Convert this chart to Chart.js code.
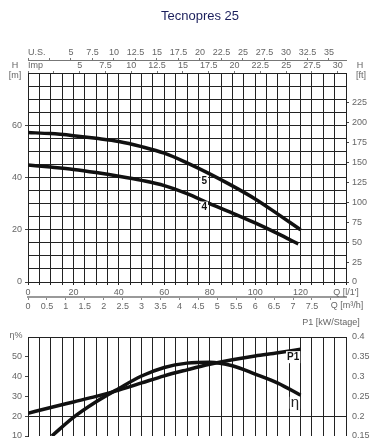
<!DOCTYPE html>
<html lang="en">
<head>
<meta charset="UTF-8">
<title>Tecnopres 25</title>
<script src="https://cdn.jsdelivr.net/npm/chart.js"></script>
<style>
  html, body { margin: 0; padding: 0; background: #fff; }
  .wrap { position: relative; width: 376px; height: 448px; }
  .wrap canvas { position: absolute; left: 0; top: 0; }
</style>
</head>
<body>
<div class="wrap">
  <canvas id="headChart" width="376" height="448"></canvas>
  <canvas id="effChart" width="376" height="448"></canvas>
</div>
<script>
// Curve data (Q in l/min)
const flowLpm = [0, 10, 20, 30, 40, 50, 60, 70, 80, 90, 100, 110, 120];
const head5 = [57.2, 56.8, 56.0, 55.0, 53.8, 51.8, 49.3, 45.6, 41.4, 36.8, 31.8, 26.0, 20.0];
const flow4 = [0, 10, 20, 30, 40, 50, 60, 70, 80, 90, 100, 110, 119];
const head4 = [44.8, 44.0, 43.1, 41.9, 40.5, 38.9, 36.9, 33.8, 30.0, 26.4, 22.6, 18.5, 14.6];
const effFlow = [10.5, 20, 30, 40, 50, 60, 70, 80, 90, 100, 110, 120];
const effPct = [10, 19.4, 27.3, 34.0, 40.3, 44.6, 46.8, 47.3, 45.5, 41.3, 36.7, 30.6];
const powerKw = [0.2075, 0.222, 0.236, 0.25, 0.266, 0.284, 0.302, 0.317, 0.331, 0.3425, 0.352, 0.36, 0.369];

// Tick labels
const flowTicks = [0, 20, 40, 60, 80, 100, 120];
const m3hTicks = [0, 0.5, 1, 1.5, 2, 2.5, 3, 3.5, 4, 4.5, 5, 5.5, 6, 6.5, 7, 7.5];
const usTicks = [5, 7.5, 10, 12.5, 15, 17.5, 20, 22.5, 25, 27.5, 30, 32.5, 35];
const impTicks = [5, 7.5, 10, 12.5, 15, 17.5, 20, 22.5, 25, 27.5, 30];
const headTicks = [0, 20, 40, 60];
const ftTicks = [0, 25, 50, 75, 100, 125, 150, 175, 200, 225];
const effTicks = [10, 20, 30, 40, 50];
const powerTicks = [0.15, 0.2, 0.25, 0.3, 0.35, 0.4];

const Q_MAX = 140;      // l/min
const H_MAX = 80;       // m
const L_US = 3.785411784;
const L_IMP = 4.54609;

const FONT = "'Liberation Sans', Arial, sans-serif";
Chart.defaults.font.family = FONT;
Chart.defaults.font.size = 9;
Chart.defaults.color = '#666';

const pts = (xs, ys) => xs.map((x, i) => ({ x: x, y: ys[i] }));
const near = (arr, v) => arr.some(t => Math.abs(t - v) < 1e-6);
const fmt = v => String(Number(v.toFixed(3)));
const only = arr => v => near(arr, v) ? fmt(v) : '';
// ticks every `step` from `from` up to `last`, labels come from `only`
const tickRun = (step, last, from = 0) => s => {
  const t = [];
  for (let v = from; v <= last + 1e-9; v += step) t.push({ value: Number(v.toFixed(4)) });
  s.ticks = t;
};

// draws free text (axis captions, curve labels)
function notes(items) {
  return {
    id: 'notes',
    afterDraw(chart) {
      const ctx = chart.ctx;
      ctx.save();
      for (const n of items) {
        let x = n.x, y = n.y;
        if (n.at) {
          x = chart.scales[n.at[0]].getPixelForValue(n.at[1]);
          y = chart.scales[n.at[2]].getPixelForValue(n.at[3]);
        }
        ctx.font = n.font || ('9px ' + FONT);
        ctx.textAlign = n.align || 'center';
        ctx.textBaseline = 'middle';
        if (n.bg) {
          const w = ctx.measureText(n.text).width;
          ctx.fillStyle = '#fff';
          ctx.fillRect(x - w / 2 - 1, y - 6, w + 2, 12);
        }
        ctx.fillStyle = n.color || '#666';
        ctx.fillText(n.text, x, y);
      }
      ctx.restore();
    }
  };
}

const curve = (data, x, y) => ({
  data: data, xAxisID: x, yAxisID: y,
  borderColor: '#111', borderWidth: 3.5, pointRadius: 0,
  cubicInterpolationMode: 'monotone', fill: false
});

// Head curves
new Chart(document.getElementById('headChart'), {
  type: 'line',
  data: {
    datasets: [
      curve(pts(flowLpm, head5), 'x', 'y'),
      curve(pts(flow4, head4), 'x', 'y')
    ]
  },
  options: {
    responsive: false,
    animation: false,
    devicePixelRatio: 1,
    layout: { padding: { top: 47, bottom: 448 - 312, left: 0, right: 0 } },
    plugins: { legend: { display: false }, tooltip: { enabled: false } },
    scales: {
      x: {
        type: 'linear', position: 'bottom', min: 0, max: Q_MAX, weight: 0,
        afterFit: s => { s.height = 15; },
        ticks: { stepSize: 5, autoSkip: false, maxRotation: 0, padding: 2, callback: only(flowTicks) },
        grid: { color: '#222', lineWidth: 1, tickLength: 3 },
        border: { color: '#222' }
      },
      xm3: {
        type: 'linear', position: 'bottom', min: 0, max: Q_MAX * 60 / 1000, weight: 1,
        afterFit: s => { s.height = 15; },
        afterBuildTicks: tickRun(0.5, 8),
        ticks: { autoSkip: false, maxRotation: 0, padding: 1, callback: only(m3hTicks) },
        grid: { drawOnChartArea: false, tickLength: 3, color: '#888' },
        border: { color: '#999', width: 2 }
      },
      ximp: {
        type: 'linear', position: 'top', min: 0, max: Q_MAX / L_IMP, weight: 0,
        afterFit: s => { s.height = 13; },
        afterBuildTicks: tickRun(2.5, 30),
        ticks: { autoSkip: false, maxRotation: 0, padding: 0, callback: only(impTicks) },
        grid: { drawOnChartArea: false, tickLength: 2, color: '#777' },
        border: { color: '#222' }
      },
      xus: {
        type: 'linear', position: 'top', min: 0, max: Q_MAX / L_US, weight: 1,
        afterFit: s => { s.height = 13; },
        afterBuildTicks: tickRun(2.5, 35),
        ticks: { autoSkip: false, maxRotation: 0, padding: 0, callback: only(usTicks) },
        grid: { drawOnChartArea: false, tickLength: 2, color: '#777' },
        border: { color: '#777' }
      },
      y: {
        type: 'linear', position: 'left', min: 0, max: H_MAX,
        afterFit: s => { s.width = 28; },
        ticks: { stepSize: 5, autoSkip: false, padding: 3, callback: only(headTicks) },
        grid: {
          color: '#222', lineWidth: 1, tickLength: 3,
          tickColor: c => c.tick && near(headTicks, c.tick.value) ? '#444' : 'rgba(0,0,0,0)'
        },
        border: { color: '#222' }
      },
      yft: {
        type: 'linear', position: 'right', min: 0, max: H_MAX / 0.3048,
        afterFit: s => { s.width = 30; },
        afterBuildTicks: tickRun(25, 225),
        ticks: { autoSkip: false, padding: 3, callback: only(ftTicks) },
        grid: { drawOnChartArea: false, tickLength: 3, color: '#444' },
        border: { color: '#222' }
      }
    }
  },
  plugins: [notes([
    { text: 'Tecnopres 25', x: 200, y: 16, font: '13px ' + FONT, color: '#1b1f5c' },
    { text: 'U.S.', x: 28, y: 53, align: 'left' },
    { text: 'Imp', x: 28, y: 66, align: 'left' },
    { text: 'H', x: 15, y: 66 },
    { text: '[m]', x: 15, y: 76 },
    { text: 'H', x: 360, y: 66 },
    { text: '[ft]', x: 361, y: 76 },
    { text: "Q [l/1']", x: 346, y: 293 },
    { text: 'Q [m³/h]', x: 347, y: 306 },
    { text: '5', at: ['x', 77.6, 'y', 38.5], font: 'bold 10px ' + FONT, color: '#111', bg: true },
    { text: '4', at: ['x', 77.6, 'y', 28.5], font: 'bold 10px ' + FONT, color: '#111', bg: true }
  ])]
});

// Efficiency and power curves
new Chart(document.getElementById('effChart'), {
  type: 'line',
  data: {
    datasets: [
      curve(pts(effFlow, effPct), 'x', 'y'),
      curve(pts(flowLpm, powerKw), 'x', 'yp')
    ]
  },
  options: {
    responsive: false,
    animation: false,
    devicePixelRatio: 1,
    layout: { padding: { top: 337, bottom: 12, left: 0, right: 0 } },
    plugins: { legend: { display: false }, tooltip: { enabled: false } },
    scales: {
      x: {
        type: 'linear', position: 'bottom', min: 0, max: Q_MAX,
        afterFit: s => { s.height = 0; },
        ticks: { display: false, stepSize: 5, autoSkip: false },
        grid: { color: '#222', lineWidth: 1, drawTicks: false },
        border: { display: false }
      },
      y: {
        type: 'linear', position: 'left', min: 10, max: 60,
        afterFit: s => { s.width = 28; },
        ticks: { stepSize: 10, autoSkip: false, padding: 3, callback: only(effTicks) },
        grid: {
          tickLength: 3,
          color: c => c.tick && (c.tick.value === 20 || c.tick.value === 60) ? '#222' : 'rgba(0,0,0,0)',
          tickColor: c => c.tick && near(effTicks, c.tick.value) ? '#444' : 'rgba(0,0,0,0)'
        },
        border: { color: '#222' }
      },
      yp: {
        type: 'linear', position: 'right', min: 0.15, max: 0.4,
        afterFit: s => { s.width = 30; },
        afterBuildTicks: tickRun(0.05, 0.4, 0.15),
        ticks: { autoSkip: false, padding: 6, callback: only(powerTicks) },
        grid: { drawOnChartArea: false, drawTicks: false },
        border: { display: false }
      }
    }
  },
  plugins: [notes([
    { text: 'η%', x: 16, y: 336 },
    { text: 'P1 [kW/Stage]', x: 331, y: 323 },
    { text: 'P1', at: ['x', 116.7, 'y', 49.8], font: 'bold 10px ' + FONT, color: '#111', bg: true },
    { text: 'η', at: ['x', 117.5, 'y', 26.8], font: '15px ' + FONT, color: '#222', bg: true }
  ])]
});
</script>
</body>
</html>
